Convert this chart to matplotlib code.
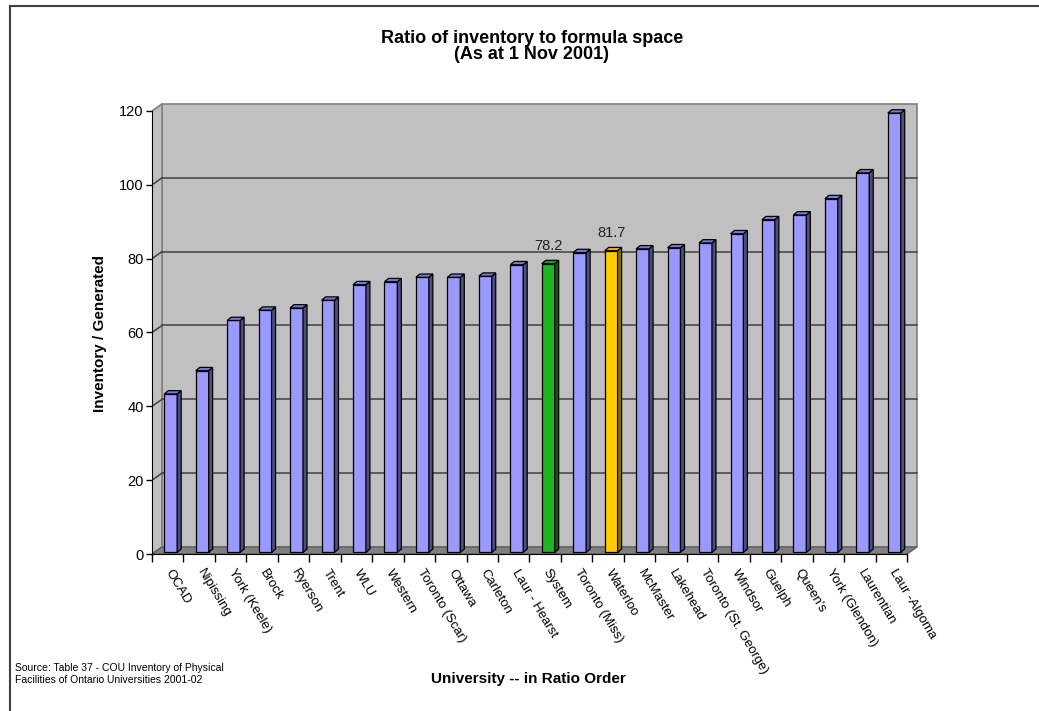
import matplotlib
matplotlib.use("Agg")
import matplotlib.pyplot as plt
from matplotlib.patches import Polygon
from matplotlib.lines import Line2D

plt.rcParams['font.family'] = ['Liberation Sans', 'DejaVu Sans']

categories = ["OCAD", "Nipissing", "York (Keele)", "Brock", "Ryerson", "Trent", "WLU",
              "Western", "Toronto (Scar)", "Ottawa", "Carleton", "Laur - Hearst", "System",
              "Toronto (Miss)", "Waterloo", "McMaster", "Lakehead", "Toronto (St. George)",
              "Windsor", "Guelph", "Queen's", "York (Glendon)", "Laurentian", "Laur -Algoma"]
values = [42.9, 49.2, 62.8, 65.6, 66.2, 68.3, 72.5, 73.3, 74.5, 74.5, 74.8, 77.9, 78.2,
          81.2, 81.7, 82.2, 82.5, 83.8, 86.3, 90.1, 91.4, 95.8, 102.8, 119.0]
labelled = {"System": "78.2", "Waterloo": "81.7"}
yticks = [0, 20, 40, 60, 80, 100, 120]

title_lines = ["Ratio of inventory to formula space", "(As at 1 Nov 2001)"]
xlabel = "University -- in Ratio Order"
ylabel = "Inventory / Generated"
source = "Source: Table 37 - COU Inventory of Physical\nFacilities of Ontario Universities 2001-02"

# colours
default_face = ("#9999FF", "#7A7AD6", "#4D4D80")
special_face = {"System": ("#1FB51F", "#18A018", "#0F5C0F"),
                "Waterloo": ("#FFCC00", "#E6B800", "#8C7000")}

W, H = 1039, 711
fig = plt.figure(figsize=(W / 100, H / 100), dpi=100)

n = len(categories)
ymax = yticks[-1]
px_x = 31.458
px_y = 3.6917
x0px, y0px = 152, 554
xlim_hi, ylim_hi = n + 0.5, ymax + 2.5
ax = fig.add_axes([x0px / W, (H - y0px) / H, xlim_hi * px_x / W, ylim_hi * px_y / H])
ax.set_xlim(0, xlim_hi)
ax.set_ylim(0, ylim_hi)
ax.patch.set_visible(False)

DX = 10 / px_x
DY = 7 / px_y

# walls and floor
wall = "#C0C0C0"
ax.add_patch(Polygon([(DX, DY), (n + DX, DY), (n + DX, ymax + DY), (DX, ymax + DY)],
                     closed=True, facecolor=wall, edgecolor="#808080", lw=1.2, zorder=1))
ax.add_patch(Polygon([(0, 0), (DX, DY), (DX, ymax + DY), (0, ymax)],
                     closed=True, facecolor=wall, edgecolor="#808080", lw=1.2, zorder=1))
ax.add_patch(Polygon([(0, 0), (n, 0), (n + DX, DY), (DX, DY)],
                     closed=True, facecolor="#808080", edgecolor="#606060", lw=1.0, zorder=1))
for v in yticks[1:-1]:
    ax.plot([DX, n + DX], [v + DY, v + DY], color="#404040", lw=1.1, zorder=2)
    ax.plot([0, DX], [v, v + DY], color="#404040", lw=1.1, zorder=2)

# bars
bw = 0.41
boff = 0.39
base = 0.45
bdx = 4 / px_x
bdy = 3.3 / px_y
for i, (cat, v) in enumerate(zip(categories, values)):
    front, top, side = special_face.get(cat, default_face)
    xl = i + boff
    xr = xl + bw
    yb = base
    yt = base + v
    ax.add_patch(Polygon([(xl, yb), (xr, yb), (xr, yt), (xl, yt)], closed=True,
                         facecolor=front, edgecolor="black", lw=0.9, zorder=4))
    ax.add_patch(Polygon([(xr, yb), (xr + bdx, yb + bdy), (xr + bdx, yt + bdy), (xr, yt)],
                         closed=True, facecolor=side, edgecolor="black", lw=0.9, zorder=4))
    ax.add_patch(Polygon([(xl, yt), (xr, yt), (xr + bdx, yt + bdy), (xl + bdx, yt + bdy)],
                         closed=True, facecolor=top, edgecolor="black", lw=0.9, zorder=4))
    if cat in labelled:
        ax.text(xl + bw / 2, yt + 3.0, labelled[cat], ha="center", va="bottom",
                fontsize=10.5, color="#222222", zorder=5)
    ax.text(i + 0.68, -3.6, cat, rotation=-59, rotation_mode="anchor",
            ha="left", va="top", fontsize=9.5, color="black")

# axes spines and ticks
for s in ["top", "right"]:
    ax.spines[s].set_visible(False)
ax.spines["left"].set_bounds(0, ymax)
ax.spines["bottom"].set_bounds(0, n)
ax.spines["left"].set_zorder(3)
ax.spines["bottom"].set_zorder(3)
ax.set_yticks(yticks)
ax.set_yticklabels([str(t) for t in yticks], fontsize=10.5)
ax.tick_params(axis="y", length=4, width=1, pad=2)
ax.set_xticks(range(n + 1))
ax.set_xticklabels([])
ax.tick_params(axis="x", length=6, width=1)

# titles and labels
fig.text(532 / W, 1 - 43 / H, title_lines[0], ha="center", va="baseline",
         fontsize=13, fontweight="bold")
fig.text(532 / W, 1 - 59 / H, title_lines[1], ha="center", va="baseline",
         fontsize=13, fontweight="bold")
fig.text(100 / W, 1 - 333 / H, ylabel, rotation=90, ha="center", va="center",
         fontsize=11, fontweight="bold")
fig.text(528 / W, 1 - 679 / H, xlabel, ha="center", va="center",
         fontsize=11, fontweight="bold")
fig.text(15 / W, 1 - 674 / H, source, ha="left", va="center", fontsize=7.5,
         linespacing=1.15)

# frame border
fig.add_artist(Line2D([10 / W, 10 / W], [0, 1 - 6 / H], transform=fig.transFigure,
                      color="#404040", lw=1.5))
fig.add_artist(Line2D([10 / W, 1], [1 - 6 / H, 1 - 6 / H], transform=fig.transFigure,
                      color="#404040", lw=1.5))

fig.savefig("out.png", dpi=100)
